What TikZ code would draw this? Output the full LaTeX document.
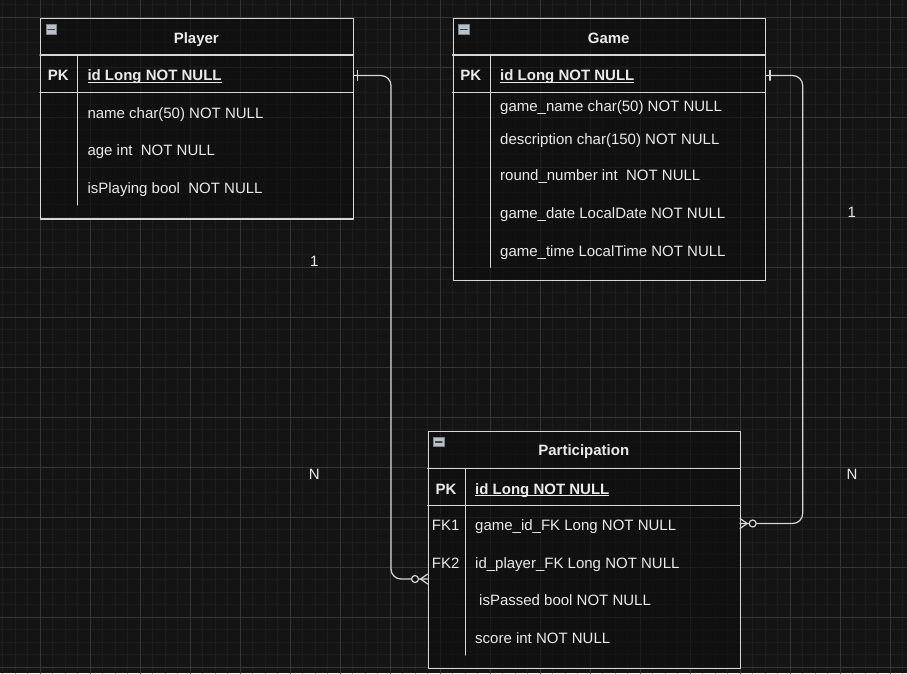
\documentclass[tikz,border=0pt]{standalone}
\usepackage{fontspec}
\setmainfont{Liberation Sans}
\definecolor{bgcol}{HTML}{141414}
\definecolor{gridminor}{HTML}{1D1D1D}
\definecolor{gridmajor}{HTML}{353535}
\definecolor{boxfill}{HTML}{0E0E0E}
\definecolor{linecol}{HTML}{D6D6D6}
\definecolor{textcol}{HTML}{EAEAEA}
\definecolor{iconfill}{HTML}{B9C0C8}
\definecolor{iconedge}{HTML}{7C8692}
\newcommand{\pkline}[1]{\leavevmode\setbox0\hbox{#1}\rlap{\rule[-1.8pt]{\wd0}{0.9pt}}\box0}
\begin{document}
\begin{tikzpicture}[x=1pt, y=-1pt, line join=round, line cap=round,
	font=\fontsize{15}{18}\selectfont, text=textcol,
	tablebox/.style={draw=linecol, line width=1.4pt, fill=boxfill, fill opacity=0.6,
		anchor=north west, inner sep=0pt},
	rowline/.style={draw=linecol, line width=1.3pt},
	colline/.style={draw=linecol, line width=1pt},
	minusicon/.style={draw=iconedge, fill=iconfill, line width=0.8pt, inner sep=0pt,
		minimum width=10.5pt, minimum height=9.5pt,
		path picture={\draw[black!75, line width=1.3pt]
			([xshift=2pt]path picture bounding box.west) -- ([xshift=-2pt]path picture bounding box.east);}},
	title/.style={anchor=base, inner sep=0pt, font=\fontsize{15}{18}\selectfont\bfseries},
	keyname/.style={anchor=base, inner sep=0pt, font=\fontsize{15}{18}\selectfont\bfseries},
	keyfk/.style={anchor=base, inner sep=0pt},
	field/.style={anchor=base west, inner sep=0pt},
	pkfield/.style={anchor=base west, inner sep=0pt, font=\fontsize{15}{18}\selectfont\bfseries},
	card/.style={anchor=base, inner sep=0pt},
	conn/.style={draw=linecol, line width=1.2pt, rounded corners=10pt},
	endmark/.style={draw=linecol, line width=1.2pt}]

	% background and grid
	\useasboundingbox (0,0) rectangle (907,673);
	\fill[bgcol] (0,0) rectangle (907,673);
	\begin{scope}[line width=1pt]
		\foreach \i in {0,...,72} \draw[gridminor] (2.5+12.5*\i,0) -- (2.5+12.5*\i,673);
		\foreach \i in {0,...,53} \draw[gridminor] (0,4.8+12.5*\i) -- (907,4.8+12.5*\i);
		\foreach \i in {0,...,17} \draw[gridmajor] (40+50*\i,0) -- (40+50*\i,673);
		\foreach \i in {0,...,13} \draw[gridmajor] (0,17.3+50*\i) -- (907,17.3+50*\i);
	\end{scope}

	% Player
	\node[tablebox, minimum width=312.7pt, minimum height=200.6pt] (player) at (40,17.7) {};
	\draw[rowline] (40,55) -- (352.7,55) (40,92.7) -- (352.7,92.7);
	\draw[colline] (77.7,55) -- (77.7,205);
	\node[minusicon] (picon) at (51.2,29.3) {};
	\node[title] (ptitle) at (196.3,43.3) {Player};
	\node[keyname] (ppk) at (58.3,80.7) {PK};
	\node[pkfield] (pid) at (87.3,80.7) {\pkline{id Long NOT NULL}};
	\node[field] (pname) at (87.3,118.3) {name char(50) NOT NULL};
	\node[field] (page) at (87.3,155.7) {age int\ \ NOT NULL};
	\node[field] (pplay) at (87.3,193.3) {isPlaying bool\ \ NOT NULL};

	% Game
	\node[tablebox, minimum width=312.5pt, minimum height=262.3pt] (game) at (452.5,17.7) {};
	\draw[rowline] (452.5,55) -- (765,55) (452.5,92.7) -- (765,92.7);
	\draw[colline] (490,55) -- (490,267.3);
	\node[minusicon] (gicon) at (463.8,29.5) {};
	\node[title] (gtitle) at (608.7,43.3) {Game};
	\node[keyname] (gpk) at (470.7,80.7) {PK};
	\node[pkfield] (gid) at (500,80.7) {\pkline{id Long NOT NULL}};
	\node[field] (gname) at (500,111.7) {game\_name char(50) NOT NULL};
	\node[field] (gdesc) at (500,144) {description char(150) NOT NULL};
	\node[field] (ground) at (500,180.7) {round\_number int\ \ NOT NULL};
	\node[field] (gdate) at (500,218.3) {game\_date LocalDate NOT NULL};
	\node[field] (gtime) at (500,256) {game\_time LocalTime NOT NULL};

	% Participation
	\node[tablebox, minimum width=312.3pt, minimum height=237pt] (part) at (427.7,430.7) {};
	\draw[rowline] (427.7,468.3) -- (740,468.3) (427.7,505.7) -- (740,505.7);
	\draw[colline] (465.3,468.3) -- (465.3,655);
	\node[minusicon] (aicon) at (438.8,442) {};
	\node[title] (atitle) at (583.8,455.7) {Participation};
	\node[keyname] (apk) at (446,494) {PK};
	\node[pkfield] (aid) at (475,494) {\pkline{id Long NOT NULL}};
	\node[keyfk] (afk1) at (445.7,530.7) {FK1};
	\node[field] (agame) at (475,530.7) {game\_id\_FK Long NOT NULL};
	\node[keyfk] (afk2) at (445.7,568.3) {FK2};
	\node[field] (aplayer) at (475,568.3) {id\_player\_FK Long NOT NULL};
	\node[field] (apassed) at (479,605.7) {isPassed bool NOT NULL};
	\node[field] (ascore) at (475,643.3) {score int NOT NULL};

	% connectors
	\coordinate (player-drop) at (391,579);
	\coordinate (part-fk2-in) at (427.7,579);
	\coordinate (game-drop) at (802.7,523.5);
	\coordinate (part-fk1-in) at (740,523.5);
	\draw[conn] (player.east |- ppk) -| (player-drop) -- (part-fk2-in);
	\draw[conn] (game.east |- gpk) -| (game-drop) -- (part-fk1-in);

	% one ends
	\draw[endmark] (357.3,70.3) -- (357.3,80.3);
	\draw[endmark] (770,70.3) -- (770,80.3);
	% zero or many ends
	\draw[endmark] (420.5,579) -- (427.7,574) (420.5,579) -- (427.7,584);
	\draw[endmark, fill=bgcol] (415,579) circle (3.5);
	\draw[endmark] (747.2,523.5) -- (740,518.5) (747.2,523.5) -- (740,528.5);
	\draw[endmark, fill=bgcol] (752.7,523.5) circle (3.5);

	% cardinalities
	\node[card] (c1) at (314.2,266.7) {1};
	\node[card] (c2) at (314.2,479) {N};
	\node[card] (c3) at (851.8,217.3) {1};
	\node[card] (c4) at (852,479) {N};
\end{tikzpicture}
\end{document}
